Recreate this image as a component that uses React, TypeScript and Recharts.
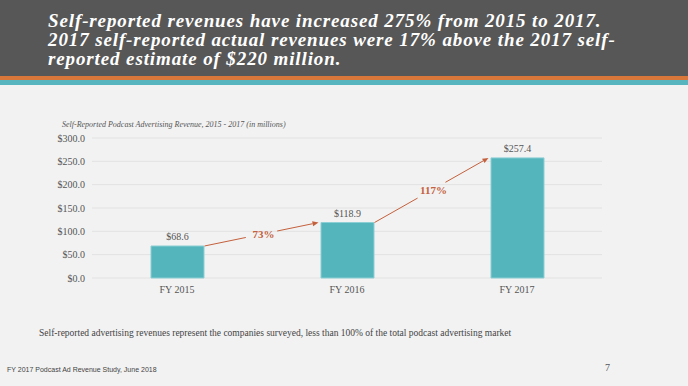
import { BarChart, Bar, XAxis, YAxis, CartesianGrid, LabelList, ReferenceLine } from 'recharts';

const years = ['FY 2015', 'FY 2016', 'FY 2017'];
const revenue = [68.6, 118.9, 257.4];
const growth = ['73%', '117%'];
const yTicks = [0, 50, 100, 150, 200, 250, 300];

const data = years.map((year, i) => ({ year, revenue: revenue[i] }));

const SERIF = '"Liberation Serif", "DejaVu Serif", serif';
const TEAL = '#55b5bd';
const ARROW = '#c4603c';
const BAR_SIZE = 53;

// arrow between two bar tops, gap in the middle for the label
function growthArrow(label: string) {
  return (props: any) => {
    const { x1, y1, x2, y2 } = props;
    const sx = x1 + BAR_SIZE / 2 + 1;
    const ex = x2 - BAR_SIZE / 2 - 2;
    const dx = ex - sx;
    const dy = y2 - y1;
    const len = Math.sqrt(dx * dx + dy * dy);
    const ux = dx / len;
    const uy = dy / len;
    const mx = (sx + ex) / 2;
    const my = (y1 + y2) / 2;
    const gap = 16;
    const head = 6;
    const tipX = ex;
    const tipY = y2;
    const bx = tipX - ux * head;
    const by = tipY - uy * head;
    return (
      <g>
        <line x1={sx} y1={y1} x2={mx - ux * gap} y2={my - uy * gap} stroke={ARROW} strokeWidth={1} />
        <line x1={mx + ux * gap} y1={my + uy * gap} x2={bx} y2={by} stroke={ARROW} strokeWidth={1} />
        <polygon
          points={`${tipX},${tipY} ${bx - uy * 2.5},${by + ux * 2.5} ${bx + uy * 2.5},${by - ux * 2.5}`}
          fill={ARROW}
        />
        <text
          x={mx + 2}
          y={my + 4}
          textAnchor="middle"
          fill={ARROW}
          fontFamily={SERIF}
          fontWeight="bold"
          fontSize={11}
        >
          {label}
        </text>
      </g>
    );
  };
}

export default function App() {
  return (
    <div
      style={{
        position: 'absolute',
        left: 0,
        top: 0,
        width: 688,
        height: 386,
        background: '#f2f2f2',
        overflow: 'hidden',
      }}
    >
      <div style={{ position: 'absolute', left: 0, top: 0, width: 688, height: 76, background: '#575757' }} />
      <div style={{ position: 'absolute', left: 0, top: 76, width: 688, height: 4, background: '#d9773a' }} />
      <div style={{ position: 'absolute', left: 0, top: 80, width: 688, height: 5, background: '#56b5bf' }} />
      <div
        style={{
          position: 'absolute',
          left: 48,
          top: 11,
          color: '#ffffff',
          fontFamily: SERIF,
          fontWeight: 'bold',
          fontStyle: 'italic',
          fontSize: 19,
          letterSpacing: 0.88,
          lineHeight: '19px',
          whiteSpace: 'nowrap',
        }}
      >
        Self-reported revenues have increased 275% from 2015 to 2017.
        <br />
        2017 self-reported actual revenues were 17% above the 2017 self-
        <br />
        reported estimate of $220 million.
      </div>

      <div
        style={{
          position: 'absolute',
          left: 62,
          top: 120,
          fontFamily: SERIF,
          fontStyle: 'italic',
          fontSize: 8,
          color: '#555',
          whiteSpace: 'nowrap',
        }}
      >
        Self-Reported Podcast Advertising Revenue, 2015 - 2017 (in millions)
      </div>

      <div style={{ position: 'absolute', left: 0, top: 128 }}>
        <BarChart
          width={610}
          height={174}
          data={data}
          margin={{ top: 10, right: 8, bottom: 0, left: 0 }}
        >
          <CartesianGrid vertical={false} stroke="#e2e2e2" />
          <XAxis
            dataKey="year"
            axisLine={false}
            tickLine={false}
            tickSize={0}
            tickMargin={8}
            height={24}
            tick={{ fontSize: 10, fill: '#555', fontFamily: SERIF }}
          />
          <YAxis
            domain={[0, 300]}
            ticks={yTicks}
            axisLine={false}
            tickLine={false}
            tickSize={0}
            tickMargin={7}
            width={92}
            tickFormatter={(v: number) => `$${v.toFixed(1)}`}
            tick={{ fontSize: 10, fill: '#555', fontFamily: SERIF }}
          />
          <Bar
            dataKey="revenue"
            fill={TEAL}
            stroke="#8ccfd4"
            strokeWidth={1}
            barSize={BAR_SIZE}
            isAnimationActive={false}
          >
            <LabelList
              dataKey="revenue"
              position="top"
              offset={6}
              formatter={(v: any) => `$${Number(v).toFixed(1)}`}
              style={{ fontSize: 10, fill: '#555', fontFamily: SERIF }}
            />
          </Bar>
          {growth.map((g, i) => (
            <ReferenceLine
              key={g}
              segment={[
                { x: years[i], y: revenue[i] },
                { x: years[i + 1], y: revenue[i + 1] },
              ]}
              shape={growthArrow(g)}
              ifOverflow="visible"
            />
          ))}
        </BarChart>
      </div>

      <div
        style={{
          position: 'absolute',
          left: 39,
          top: 328,
          fontFamily: SERIF,
          fontSize: 9.5,
          color: '#444',
          whiteSpace: 'nowrap',
        }}
      >
        Self-reported advertising revenues represent the companies surveyed, less than 100% of the total podcast
        advertising market
      </div>
      <div
        style={{
          position: 'absolute',
          left: 7,
          top: 366,
          fontFamily: '"Liberation Sans", Arial, sans-serif',
          fontSize: 7,
          color: '#444',
          whiteSpace: 'nowrap',
        }}
      >
        FY 2017 Podcast Ad Revenue Study, June 2018
      </div>
      <div
        style={{
          position: 'absolute',
          left: 605,
          top: 362,
          fontFamily: SERIF,
          fontSize: 10,
          color: '#555',
        }}
      >
        7
      </div>
    </div>
  );
}
